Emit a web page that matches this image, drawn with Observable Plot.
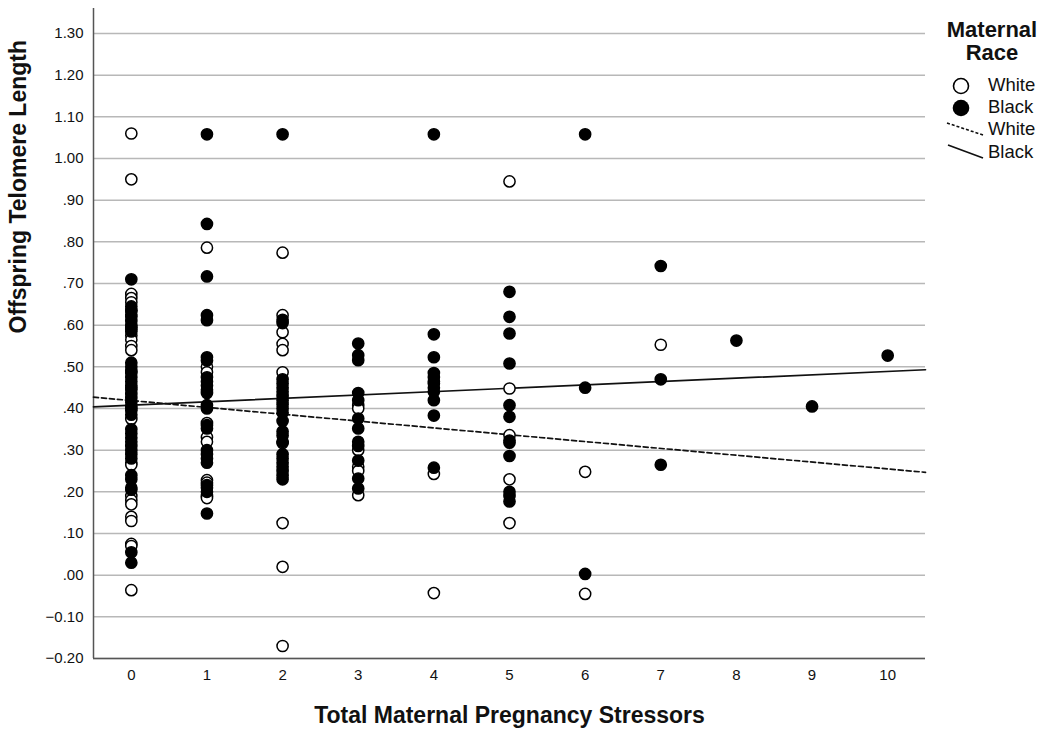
<!DOCTYPE html>
<html>
<head>
<meta charset="utf-8">
<script src="https://cdn.jsdelivr.net/npm/d3@7"></script>
<script src="https://cdn.jsdelivr.net/npm/@observablehq/plot@0.6"></script>
<style>
  html, body { margin: 0; padding: 0; background: #fff; }
  #wrap { position: relative; width: 1050px; height: 737px; font-family: "Liberation Sans", Arial, sans-serif; }
  #legend { position: absolute; left: 930px; top: 0px; }
</style>
</head>
<body>
<div id="wrap"><div id="chart"></div><svg id="legend" width="120" height="170"></svg></div>
<script>
// ---- Data ----
// index = Total Maternal Pregnancy Stressors (0..10)
const whiteByStressor = [
  [1.06, 0.95, 0.675, 0.665, 0.655, 0.635, 0.62, 0.60, 0.59, 0.575, 0.565, 0.55, 0.54, 0.45, 0.375, 0.27, 0.265, 0.19, 0.18, 0.17, 0.14, 0.13, 0.075, 0.07, -0.036],
  [0.786, 0.50, 0.487, 0.365, 0.331, 0.32, 0.228, 0.222, 0.19, 0.185],
  [0.774, 0.624, 0.583, 0.555, 0.54, 0.487, 0.317, 0.125, 0.02, -0.17],
  [0.408, 0.40, 0.30, 0.26, 0.25, 0.192],
  [0.46, 0.243, -0.043],
  [0.945, 0.448, 0.336, 0.23, 0.125],
  [0.248, -0.045],
  [0.553],
  [],
  [],
  []
];
const blackByStressor = [
  [0.71, 0.645, 0.635, 0.625, 0.61, 0.595, 0.585, 0.51, 0.50, 0.49, 0.485, 0.475, 0.465, 0.455, 0.445, 0.435, 0.425, 0.415, 0.405, 0.40, 0.395, 0.385, 0.35, 0.34, 0.33, 0.32, 0.31, 0.30, 0.29, 0.28, 0.24, 0.23, 0.21, 0.205, 0.055, 0.03],
  [1.058, 0.843, 0.717, 0.624, 0.612, 0.523, 0.515, 0.475, 0.465, 0.455, 0.445, 0.437, 0.408, 0.40, 0.36, 0.352, 0.30, 0.29, 0.28, 0.27, 0.216, 0.21, 0.20, 0.148],
  [1.058, 0.613, 0.605, 0.47, 0.46, 0.45, 0.44, 0.43, 0.42, 0.41, 0.40, 0.39, 0.37, 0.345, 0.335, 0.32, 0.29, 0.28, 0.27, 0.26, 0.25, 0.24, 0.23],
  [0.556, 0.528, 0.516, 0.437, 0.42, 0.376, 0.352, 0.32, 0.31, 0.275, 0.232, 0.208],
  [1.058, 0.578, 0.523, 0.485, 0.475, 0.465, 0.45, 0.44, 0.42, 0.383, 0.258],
  [0.68, 0.62, 0.58, 0.508, 0.408, 0.38, 0.323, 0.318, 0.286, 0.2, 0.19, 0.177],
  [1.058, 0.45, 0.003],
  [0.742, 0.47, 0.265],
  [0.563],
  [0.405],
  [0.527]
];
// Fit lines (intercept at 0 stressors, slope per stressor)
const lineRace = ["White", "Black"];
const lineIntercept = [0.419, 0.408];
const lineSlope = [-0.0164, 0.0081];

const xTicks = [0, 1, 2, 3, 4, 5, 6, 7, 8, 9, 10];
const yTicks = [-0.2, -0.1, 0, 0.1, 0.2, 0.3, 0.4, 0.5, 0.6, 0.7, 0.8, 0.9, 1.0, 1.1, 1.2, 1.3];
const xDomain = [-0.5, 10.5];
const yDomain = [-0.2, 1.36];
const xTitle = "Total Maternal Pregnancy Stressors";
const yTitle = "Offspring Telomere Length";
const legendTitle = ["Maternal", "Race"];
const legendItems = ["White", "Black", "White", "Black"];

// ---- Build tables ----
const points = [];
whiteByStressor.forEach((vals, i) => vals.forEach(v => points.push({x: i, y: v, race: "White"})));
blackByStressor.forEach((vals, i) => vals.forEach(v => points.push({x: i, y: v, race: "Black"})));
const lines = [];
lineRace.forEach((r, k) => xDomain.forEach(x => lines.push({race: r, x, y: lineIntercept[k] + lineSlope[k] * x})));

const fmt = v => d3.format(".2f")(v).replace(/^(-?)0\./, "$1.");
const FONT = "'Liberation Sans', Arial, sans-serif";

const chart = Plot.plot({
  width: 1050,
  height: 737,
  marginLeft: 93,
  marginRight: 125,
  marginTop: 8,
  marginBottom: 79,
  style: {fontFamily: FONT, background: "#fff", color: "#111"},
  x: {domain: xDomain},
  y: {domain: yDomain},
  marks: [
    Plot.ruleY(yTicks, {stroke: "#b8b8b8", strokeWidth: 1.5}),
    Plot.axisX(xTicks, {tickSize: 0, tickPadding: 11, fontSize: 15, label: null, fill: "#111"}),
    Plot.axisY(yTicks, {tickSize: 0, tickPadding: 10, fontSize: 15, tickFormat: fmt, label: null, fill: "#111"}),
    Plot.ruleX([xDomain[0]], {stroke: "#555", strokeWidth: 1.5}),
    Plot.ruleY([yDomain[0]], {stroke: "#555", strokeWidth: 1.5}),
    Plot.line(lines.filter(d => d.race === "White"), {x: "x", y: "y", stroke: "#111", strokeWidth: 1.7, strokeDasharray: "5,3"}),
    Plot.line(lines.filter(d => d.race === "Black"), {x: "x", y: "y", stroke: "#111", strokeWidth: 1.7}),
    Plot.dot(points, {x: "x", y: "y", r: 5.6, fill: d => d.race === "White" ? "#fff" : "#000", stroke: "#000", strokeWidth: 1.5}),
    Plot.text([xTitle], {text: d => d, frameAnchor: "bottom", dy: 64, fontSize: 23, fontWeight: "bold", fill: "#111"}),
    Plot.text([yTitle], {text: d => d, frameAnchor: "left", dx: -75, rotate: -90, fontSize: 23, fontWeight: "bold", fill: "#111"})
  ]
});
document.getElementById("chart").appendChild(chart);

// ---- Legend ----
const lg = d3.select("#legend").style("font-family", FONT);
lg.selectAll("text.t").data(legendTitle).join("text")
  .attr("x", 62).attr("y", (d, i) => 31 + i * 23)
  .attr("text-anchor", "middle").attr("dominant-baseline", "middle")
  .attr("font-size", 22).attr("font-weight", "bold").attr("fill", "#111").text(d => d);
lg.append("circle").attr("cx", 31).attr("cy", 86).attr("r", 7.5).attr("fill", "#fff").attr("stroke", "#000").attr("stroke-width", 1.6);
lg.append("circle").attr("cx", 31).attr("cy", 108).attr("r", 8.3).attr("fill", "#000");
lg.append("line").attr("x1", 17).attr("y1", 123).attr("x2", 53).attr("y2", 135).attr("stroke", "#111").attr("stroke-width", 1.6).attr("stroke-dasharray", "3,2");
lg.append("line").attr("x1", 18).attr("y1", 145).attr("x2", 53).attr("y2", 158).attr("stroke", "#111").attr("stroke-width", 1.7);
lg.selectAll("text.i").data(legendItems).join("text")
  .attr("x", 58).attr("y", (d, i) => [86, 108, 130, 153][i])
  .attr("dominant-baseline", "middle").attr("font-size", 18.5).attr("fill", "#111").text(d => d);
</script>
</body>
</html>
